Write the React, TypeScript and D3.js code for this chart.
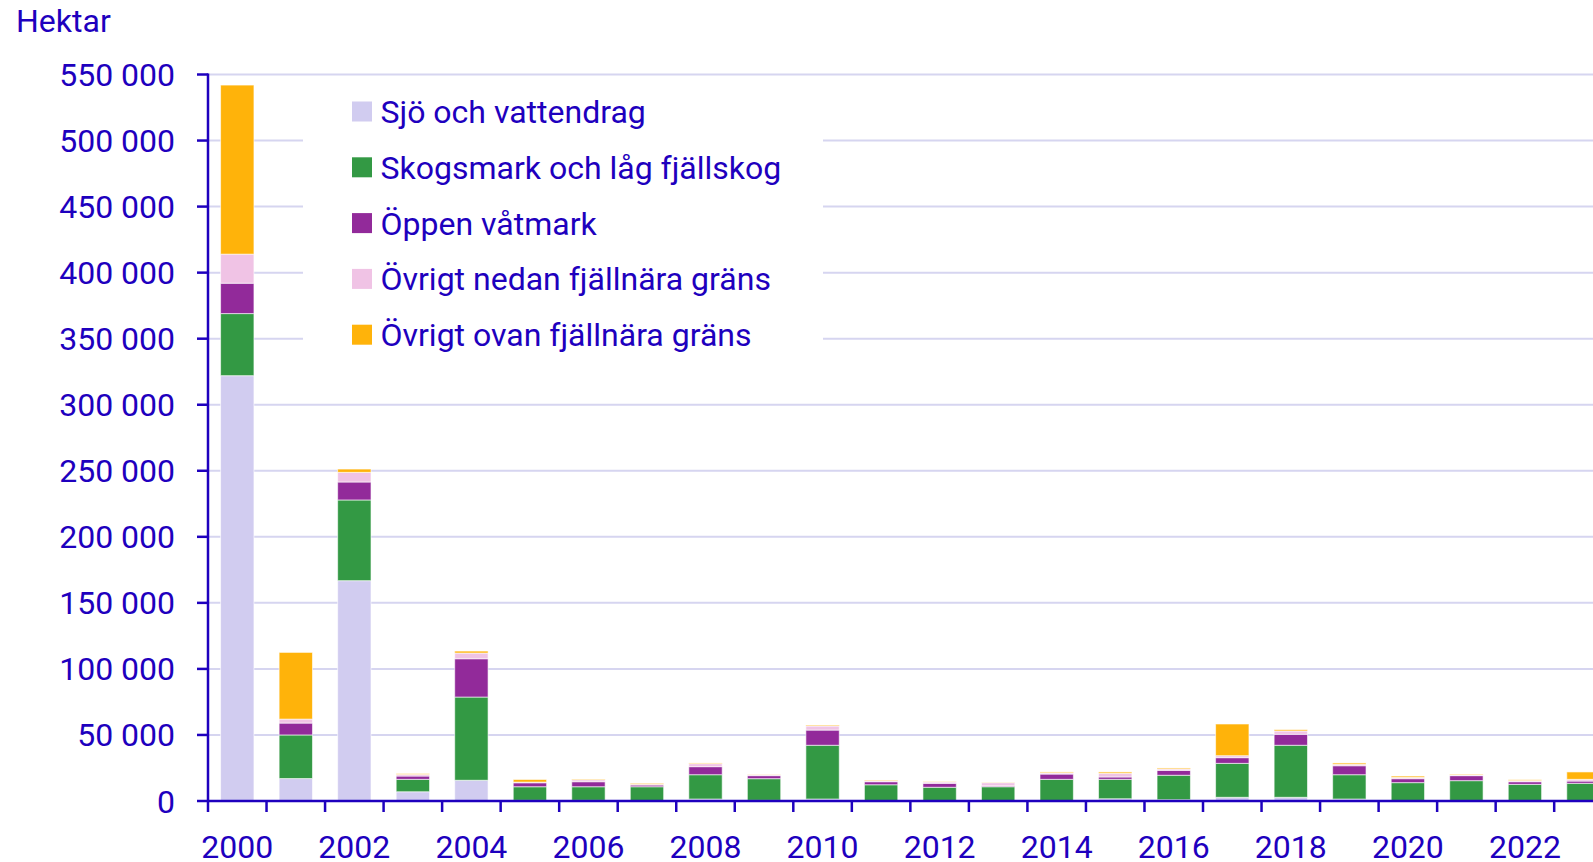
import React, { useEffect, useRef } from 'react';
import * as d3 from 'd3';

// years on the x axis
const years = [2000, 2001, 2002, 2003, 2004, 2005, 2006, 2007, 2008, 2009, 2010, 2011,
  2012, 2013, 2014, 2015, 2016, 2017, 2018, 2019, 2020, 2021, 2022, 2023];

// hektar per year and land type
const sjo = [322000, 17000, 166800, 7000, 15700, 500, 500, 300, 1500, 500, 1500, 400,
  300, 300, 300, 1700, 1000, 2800, 2800, 1500, 400, 400, 300, 300];
const skog = [47000, 33000, 61100, 9400, 63000, 10300, 10300, 10500, 18400, 16400, 40700, 11900,
  10100, 10500, 16100, 14700, 18500, 25700, 39400, 18400, 13500, 15000, 12300, 13100];
const oppen = [23000, 9000, 13600, 2500, 29000, 3000, 3800, 1300, 6100, 2300, 11500, 2300,
  3000, 700, 4000, 1800, 3700, 4300, 8300, 6800, 3000, 3800, 2000, 1700];
const nedan = [22000, 3000, 7300, 1200, 4300, 500, 1500, 600, 2300, 800, 3100, 800,
  1000, 2400, 900, 2800, 1000, 1500, 2500, 1100, 1000, 500, 800, 1300];
const ovan = [128000, 50500, 2500, 600, 1500, 2000, 500, 700, 500, 200, 700, 500,
  200, 200, 700, 1000, 800, 24000, 1000, 1000, 1000, 500, 700, 5600];

const seriesNames = ['Sjö och vattendrag', 'Skogsmark och låg fjällskog', 'Öppen våtmark',
  'Övrigt nedan fjällnära gräns', 'Övrigt ovan fjällnära gräns'];
const seriesColors = ['#d1ccf0', '#339944', '#922a9a', '#f0c3e5', '#ffb30a'];

const yTicks = [0, 50000, 100000, 150000, 200000, 250000, 300000, 350000, 400000, 450000, 500000, 550000];

const blue = '#1e00be';
const grid = '#d6d5f0';
const font = 'Roboto, sans-serif';
const fontSize = 32;

function StackedChart() {
  const ref = useRef<SVGSVGElement>(null);

  useEffect(() => {
    const width = 1593;
    const left = 208;
    const step = 58.53;
    const baseY = 801;
    const topY = 74.5;

    const svg = d3.select(ref.current);
    svg.selectAll('*').remove();

    const rows = years.map((yr, i) => ({
      year: yr,
      k0: sjo[i], k1: skog[i], k2: oppen[i], k3: nedan[i], k4: ovan[i],
    }));
    const keys = ['k0', 'k1', 'k2', 'k3', 'k4'];
    const stacked = d3.stack<any>().keys(keys)(rows);

    const x = d3.scaleBand<number>()
      .domain(years)
      .range([left, left + step * years.length])
      .paddingInner(0.43)
      .paddingOuter(0.215);

    const y = d3.scaleLinear().domain([0, 550000]).range([baseY, topY]);

    // gridlines
    svg.append('g')
      .selectAll('line')
      .data(yTicks.slice(1))
      .enter()
      .append('line')
      .attr('x1', left)
      .attr('x2', width)
      .attr('y1', d => y(d))
      .attr('y2', d => y(d))
      .attr('stroke', grid)
      .attr('stroke-width', 2);

    // white box behind the legend hides the gridlines
    svg.append('rect')
      .attr('x', 303)
      .attr('y', 88)
      .attr('width', 520)
      .attr('height', 275)
      .attr('fill', 'white');

    // bars
    svg.append('g')
      .selectAll('g')
      .data(stacked)
      .enter()
      .append('g')
      .attr('fill', (d, i) => seriesColors[i])
      .selectAll('rect')
      .data(d => d)
      .enter()
      .append('rect')
      .attr('x', d => x(d.data.year)!)
      .attr('width', x.bandwidth())
      .attr('y', d => y(d[1]))
      .attr('height', d => Math.max(0, y(d[0]) - y(d[1])))
      .attr('stroke', 'rgba(255,255,255,0.6)')
      .attr('stroke-width', 1);

    // y axis
    svg.append('line')
      .attr('x1', left).attr('x2', left)
      .attr('y1', topY - 1).attr('y2', baseY)
      .attr('stroke', blue).attr('stroke-width', 2.5);

    svg.append('g')
      .selectAll('line')
      .data(yTicks)
      .enter()
      .append('line')
      .attr('x1', left - 11).attr('x2', left)
      .attr('y1', d => y(d)).attr('y2', d => y(d))
      .attr('stroke', blue).attr('stroke-width', 2.5);

    const fmt = (v: number) => d3.format(',')(v).replace(/,/g, ' ');

    svg.append('g')
      .selectAll('text')
      .data(yTicks)
      .enter()
      .append('text')
      .attr('x', 175)
      .attr('y', d => y(d) + 11.5)
      .attr('text-anchor', 'end')
      .attr('font-family', font)
      .attr('font-size', fontSize)
      .attr('fill', blue)
      .text(d => fmt(d));

    // x axis
    svg.append('line')
      .attr('x1', left - 1).attr('x2', width)
      .attr('y1', baseY).attr('y2', baseY)
      .attr('stroke', blue).attr('stroke-width', 2.5);

    const bounds = d3.range(years.length + 1).map(i => left + i * x.step());
    svg.append('g')
      .selectAll('line')
      .data(bounds)
      .enter()
      .append('line')
      .attr('x1', d => d).attr('x2', d => d)
      .attr('y1', baseY).attr('y2', baseY + 11)
      .attr('stroke', blue).attr('stroke-width', 2.5);

    svg.append('g')
      .selectAll('text')
      .data(years.filter(yr => yr % 2 === 0))
      .enter()
      .append('text')
      .attr('x', d => x(d)! + x.bandwidth() / 2)
      .attr('y', 857.5)
      .attr('text-anchor', 'middle')
      .attr('font-family', font)
      .attr('font-size', fontSize)
      .attr('fill', blue)
      .text(d => d);

    // unit title
    svg.append('text')
      .attr('x', 16)
      .attr('y', 31.5)
      .attr('font-family', font)
      .attr('font-size', fontSize)
      .attr('fill', blue)
      .text('Hektar');

    // legend
    const legend = svg.append('g')
      .selectAll('g')
      .data(seriesNames)
      .enter()
      .append('g')
      .attr('transform', (d, i) => `translate(352, ${111.5 + i * 55.8})`);

    legend.append('rect')
      .attr('x', 0).attr('y', -10)
      .attr('width', 20).attr('height', 20)
      .attr('fill', (d, i) => seriesColors[i]);

    legend.append('text')
      .attr('x', 28.5)
      .attr('y', 11.5)
      .attr('font-family', font)
      .attr('font-size', fontSize)
      .attr('fill', blue)
      .text(d => d);
  }, []);

  return <svg ref={ref} width={1593} height={862} style={{ position: 'absolute', left: 0, top: 0, background: 'white' }} />;
}

export default function App() {
  return <StackedChart />;
}
